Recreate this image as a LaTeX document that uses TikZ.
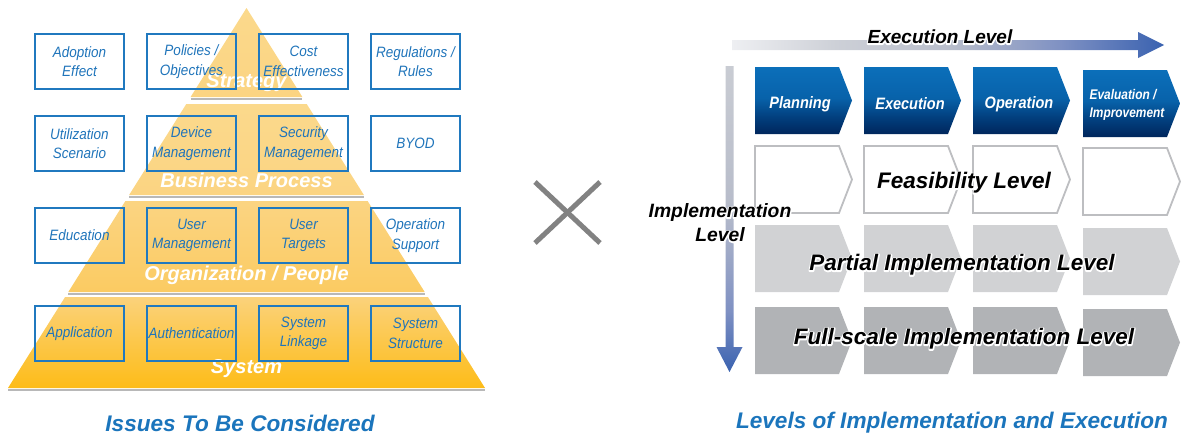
\documentclass[tikz,border=0pt]{standalone}
\usepackage{fontspec}
\setmainfont{Liberation Sans}
\newfontfamily\boxfont[FakeStretch=0.9]{Liberation Sans}
\newfontfamily\condfont[FakeStretch=0.88]{Liberation Sans}
\newfontfamily\evalfont[FakeStretch=0.85]{Liberation Sans}

% white outline behind black text: a stroked (render mode 1) copy, then the filled text
\newcommand{\halotext}[1]{\leavevmode\rlap{\special{pdf:literal direct 1 Tr 2.6 w 1 j 1 1 1 RG}#1\special{pdf:literal direct 0 Tr}}#1}

\definecolor{boxblue}{HTML}{2079BF}
\definecolor{boxtext}{HTML}{1F74BA}
\definecolor{captblue}{HTML}{1B75BC}
\definecolor{crossgray}{HTML}{828282}
\definecolor{shadowgray}{HTML}{B8B8B8}
\definecolor{pyrA}{HTML}{FBD98C}
\definecolor{pyrB}{HTML}{FBD482}
\definecolor{pyrC}{HTML}{FBD27B}
\definecolor{pyrD}{HTML}{FBCB62}
\definecolor{pyrE}{HTML}{FDBC18}
\definecolor{feasline}{HTML}{BDBEC1}
\definecolor{partfill}{HTML}{D1D2D4}
\definecolor{fullfill}{HTML}{B1B3B6}
\definecolor{hA}{HTML}{EEEFF2}
\definecolor{hB}{HTML}{CDD0D7}
\definecolor{hC}{HTML}{B9BECB}
\definecolor{hD}{HTML}{7F91C3}
\definecolor{hE}{HTML}{3A62B0}
\definecolor{vTop}{HTML}{C9CCD3}
\definecolor{vMid}{HTML}{B7BCCA}
\definecolor{cBot}{HTML}{00265C}
\definecolor{cLow}{HTML}{02407F}
\definecolor{cMid}{HTML}{0862AA}
\definecolor{cTop}{HTML}{0B6FBA}

\pgfdeclarehorizontalshading{execshade}{100bp}{color(0bp)=(hA); color(25bp)=(hA); color(37bp)=(hB); color(50bp)=(hC); color(63bp)=(hD); color(75bp)=(hE); color(100bp)=(hE)}
\pgfdeclareverticalshading{implshade}{100bp}{color(0bp)=(hE); color(25bp)=(hE); color(35bp)=(hD); color(52bp)=(vMid); color(75bp)=(vTop); color(100bp)=(vTop)}
\pgfdeclareverticalshading{chevshade}{100bp}{color(0bp)=(cBot); color(25bp)=(cBot); color(38bp)=(cLow); color(52bp)=(cMid); color(75bp)=(cTop); color(100bp)=(cTop)}

\tikzset{
  issue/.style={draw=boxblue, line width=1.3pt, minimum width=89pt, minimum height=55pt,
    inner sep=0pt, align=center, text=boxtext, font=\boxfont\itshape\fontsize{15}{19.5}\selectfont},
  bandlbl/.style={text=white, font=\bfseries\itshape\fontsize{20}{24}\selectfont, inner sep=0pt},
  chevlbl/.style={text=white, font=\condfont\bfseries\itshape\fontsize{16.5}{20}\selectfont, inner sep=0pt},
  halo/.style={text=black, font=\bfseries\itshape\fontsize{22.5}{24}\selectfont, inner sep=0pt, align=center},
  caption/.style={text=captblue, font=\bfseries\itshape\fontsize{22.6}{26}\selectfont, inner sep=0pt},
  bandshadow/.style={draw=shadowgray, line width=2pt},
  feas/.style={draw=feasline, line width=1.8pt, fill=white},
  part/.style={fill=partfill},
  full/.style={fill=fullfill},
  bluechev/.style={shading=chevshade},
}
\newcommand{\chevpath}[2]{(#1,#2) -- ++(84,0) -- ++(13,33.5) -- ++(-13,33.5) -- ++(-84,0) -- cycle}

\begin{document}
\begin{tikzpicture}[x=1pt,y=-1pt]
\useasboundingbox (0,0) rectangle (1181,437);

% ---------------- Pyramid ----------------
\shade[top color=pyrA, bottom color=pyrB] (246.5,8) -- (302.4,97) -- (190.6,97) -- cycle;
\draw[bandshadow] (190.6,98.5) -- (302.4,98.5);
\shade[top color=pyrA, bottom color=pyrB] (186.3,104) -- (306.7,104) -- (363.9,195) -- (129.1,195) -- cycle;
\draw[bandshadow] (129.1,196.5) -- (363.9,196.5);
\shade[top color=pyrB, bottom color=pyrD] (125.4,201) -- (367.6,201) -- (424.7,292) -- (68.3,292) -- cycle;
\draw[bandshadow] (68.3,293.5) -- (424.7,293.5);
\shade[top color=pyrC, bottom color=pyrE] (65.1,297) -- (427.9,297) -- (485,388) -- (8,388) -- cycle;
\draw[bandshadow] (8,389.5) -- (485,389.5);

\node[bandlbl] (strategy) at (246.5,83) {Strategy};
\node[bandlbl] (business) at (246.5,180) {Business Process};
\node[bandlbl] (orgpeople) at (246.5,275) {Organization / People};
\node[bandlbl] (system) at (246.5,369) {System};

% ---------------- Issue boxes ----------------
\node[issue] (b11) at (79.5,61.5) {Adoption\\Effect};
\node[issue] (b12) at (191.5,61.5) {Policies /\\Objectives};
\node[issue] (b13) at (303.5,61.5) {Cost\\Effectiveness};
\node[issue] (b14) at (415.5,61.5) {Regulations /\\Rules};
\node[issue] (b21) at (79.5,143.5) {Utilization\\Scenario};
\node[issue] (b22) at (191.5,143.5) {Device\\Management};
\node[issue] (b23) at (303.5,143.5) {Security\\Management};
\node[issue] (b24) at (415.5,143.5) {BYOD};
\node[issue] (b31) at (79.5,235.5) {Education};
\node[issue] (b32) at (191.5,235.5) {User\\Management};
\node[issue] (b33) at (303.5,235.5) {User\\Targets};
\node[issue] (b34) at (415.5,235.5) {Operation\\Support};
\node[issue] (b41) at (79.5,333.5) {Application};
\node[issue] (b42) at (191.5,333.5) {Authentication};
\node[issue] (b43) at (303.5,333.5) {System\\Linkage};
\node[issue] (b44) at (415.5,333.5) {System\\Structure};

\node[caption] (leftcap) at (240,423) {Issues To Be Considered};

% ---------------- Cross ----------------
\draw[crossgray, line width=5pt] (535,182) -- (600,243);
\draw[crossgray, line width=5pt] (600,182) -- (535,243);

% ---------------- Axis arrows ----------------
\shade[shading=execshade] (732,40) -- (1138,40) -- (1138,32) -- (1164,45) -- (1138,58) -- (1138,50) -- (732,50) -- cycle;
\shade[shading=implshade] (725.5,66) -- (733.5,66) -- (733.5,347) -- (742.5,347) -- (729.5,372) -- (716.5,347) -- (725.5,347) -- cycle;

% ---------------- Chevrons ----------------
\shade[bluechev] \chevpath{755}{67};
\shade[bluechev] \chevpath{864}{67};
\shade[bluechev] \chevpath{973}{67};
\shade[bluechev] \chevpath{1083}{70};

\draw[feas] \chevpath{755}{146};
\draw[feas] \chevpath{864}{146};
\draw[feas] \chevpath{973}{146};
\draw[feas] \chevpath{1083}{148};

\fill[part] \chevpath{755}{225};
\fill[part] \chevpath{864}{225};
\fill[part] \chevpath{973}{225};
\fill[part] \chevpath{1083}{228};

\fill[full] \chevpath{755}{307};
\fill[full] \chevpath{864}{307};
\fill[full] \chevpath{973}{307};
\fill[full] \chevpath{1083}{309};

\node[chevlbl] (planning) at (800,104) {Planning};
\node[chevlbl] (execution) at (910,104) {Execution};
\node[chevlbl] (operation) at (1019,104) {Operation};
\node[chevlbl, font=\evalfont\bfseries\itshape\fontsize{14}{18}\selectfont, align=left] (evaluation) at (1127,105) {Evaluation /\\Improvement};

\node[caption] (rightcap) at (952,423) {Levels of Implementation and Execution};

% outlined labels last (their specials change the stroke state)
\node[halo, font=\bfseries\itshape\fontsize{19}{22}\selectfont] (execlvl) at (940,37) {\halotext{Execution Level}};
\node[halo, font=\bfseries\itshape\fontsize{19.3}{24}\selectfont] (impllvl) at (720,223) {\halotext{Implementation}\\\halotext{Level}};
\node[halo] (feaslvl) at (964,183) {\halotext{Feasibility Level}};
\node[halo] (partlvl) at (962,265) {\halotext{Partial Implementation Level}};
\node[halo] (fulllvl) at (964,339) {\halotext{Full-scale Implementation Level}};
\end{tikzpicture}
\end{document}
